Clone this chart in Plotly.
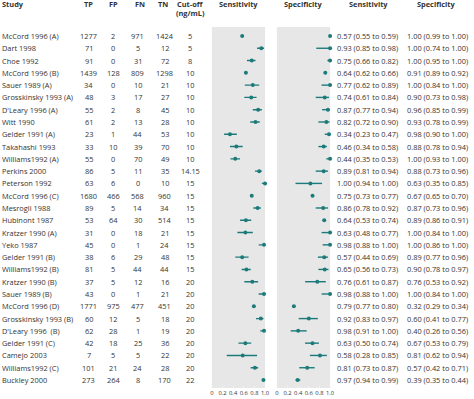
import plotly.graph_objects as go

W, H = 474, 399

studies = ["McCord 1996 (A)", "Dart 1998", "Choe 1992", "McCord 1996 (B)", "Sauer 1989 (A)",
           "Grosskinsky 1993 (A)", "D'Leary 1996 (A)", "Witt 1990", "Gelder 1991 (A)", "Takahashi 1993",
           "Williams1992 (A)", "Perkins 2000", "Peterson 1992", "McCord 1996 (C)", "Mesrogli 1988",
           "Hubinont 1987", "Kratzer 1990 (A)", "Yeko 1987", "Gelder 1991 (B)", "Williams1992 (B)",
           "Kratzer 1990 (B)", "Sauer 1989 (B)", "McCord 1996 (D)", "Grosskinsky 1993 (B)",
           "D'Leary 1996  (B)", "Gelder 1991 (C)", "Camejo 2003", "Williams1992 (C)", "Buckley 2000"]
tp = [1277, 71, 91, 1439, 34, 48, 55, 61, 23, 33, 55, 86, 63, 1680, 89, 53, 31, 45, 38, 81, 37, 43, 1771, 60, 62, 42, 7, 101, 273]
fp = [2, 0, 0, 128, 0, 3, 2, 2, 1, 10, 0, 5, 6, 466, 5, 64, 0, 0, 6, 5, 5, 0, 975, 12, 28, 18, 5, 21, 264]
fn = [971, 5, 31, 809, 10, 17, 8, 13, 44, 39, 70, 11, 0, 568, 14, 30, 18, 1, 29, 44, 12, 1, 477, 5, 1, 25, 5, 24, 8]
tn = [1424, 12, 72, 1298, 21, 27, 45, 28, 53, 70, 49, 35, 10, 960, 34, 514, 21, 24, 48, 44, 16, 21, 451, 18, 19, 36, 22, 28, 170]
cutoff = ["5", "5", "8", "10", "10", "10", "10", "10", "10", "10", "10", "14.15", "15", "15", "15", "15",
          "15", "15", "15", "15", "20", "20", "20", "20", "20", "20", "20", "20", "22"]

sens = [0.57, 0.93, 0.75, 0.64, 0.77, 0.74, 0.87, 0.82, 0.34, 0.46, 0.44, 0.89, 1.00, 0.75, 0.86,
        0.64, 0.63, 0.98, 0.57, 0.65, 0.76, 0.98, 0.79, 0.92, 0.98, 0.63, 0.58, 0.81, 0.97]
sens_lo = [0.55, 0.85, 0.66, 0.62, 0.62, 0.61, 0.77, 0.72, 0.23, 0.34, 0.35, 0.81, 0.94, 0.73, 0.78,
           0.53, 0.48, 0.88, 0.44, 0.56, 0.61, 0.88, 0.77, 0.83, 0.91, 0.50, 0.28, 0.73, 0.94]
sens_hi = [0.59, 0.98, 0.82, 0.66, 0.89, 0.84, 0.94, 0.90, 0.47, 0.58, 0.53, 0.94, 1.00, 0.77, 0.92,
           0.74, 0.77, 1.00, 0.69, 0.73, 0.87, 1.00, 0.80, 0.97, 1.00, 0.74, 0.85, 0.87, 0.99]
spec = [1.00, 1.00, 1.00, 0.91, 1.00, 0.90, 0.96, 0.93, 0.98, 0.88, 1.00, 0.88, 0.63, 0.67, 0.87,
        0.89, 1.00, 1.00, 0.89, 0.90, 0.76, 1.00, 0.32, 0.60, 0.40, 0.67, 0.81, 0.57, 0.39]
spec_lo = [0.99, 0.74, 0.95, 0.89, 0.84, 0.73, 0.85, 0.78, 0.90, 0.78, 0.93, 0.73, 0.35, 0.65, 0.73,
           0.86, 0.84, 0.86, 0.77, 0.78, 0.53, 0.84, 0.29, 0.41, 0.26, 0.53, 0.62, 0.42, 0.35]
spec_hi = [1.00, 1.00, 1.00, 0.92, 1.00, 0.98, 0.99, 0.99, 1.00, 0.94, 1.00, 0.96, 0.85, 0.70, 0.96,
           0.91, 1.00, 1.00, 0.96, 0.97, 0.92, 1.00, 0.34, 0.77, 0.56, 0.79, 0.94, 0.71, 0.44]
tick_vals = [0, 0.2, 0.4, 0.6, 0.8, 1.0]
tick_text = ["0", "0.2", "0.4", "0.6", "0.8", "1.0"]

TEAL = "#1c7b7a"
TXT = "#333333"
FONT = "Open Sans"
FS = 7.4

n = len(studies)
rows = list(range(n))

def px(x):
    return x / W

def py(y):
    return 1 - y / H

fig = go.Figure()
for vals, lo, hi, xa in [(sens, sens_lo, sens_hi, "x"), (spec, spec_lo, spec_hi, "x2")]:
    fig.add_trace(go.Scatter(
        x=vals, y=rows, xaxis=xa, yaxis="y", mode="markers",
        marker=dict(color=TEAL, size=4),
        error_x=dict(type="data", symmetric=False,
                     array=[h - v for v, h in zip(vals, hi)],
                     arrayminus=[v - l for v, l in zip(vals, lo)],
                     color=TEAL, thickness=1.4, width=0),
        showlegend=False, hoverinfo="skip", cliponaxis=False))

ann = []
def add(text, x, y, xanchor="center", yref="y", bold=False, size=FS):
    ann.append(dict(text=f"<b>{text}</b>" if bold else text, x=px(x), xref="paper",
                    y=y, yref=yref, xanchor=xanchor, yanchor="middle", showarrow=False,
                    font=dict(family=FONT, size=size, color=TXT), borderpad=0))

for i in rows:
    add(studies[i], -1, i, "left")
    add(str(tp[i]), 88, i)
    add(str(fp[i]), 113, i)
    add(str(fn[i]), 138, i)
    add(str(tn[i]), 165, i)
    add(cutoff[i], 191, i)
    add(f"{sens[i]:.2f} ({sens_lo[i]:.2f} to {sens_hi[i]:.2f})", 339, i, "left")
    add(f"{spec[i]:.2f} ({spec_lo[i]:.2f} to {spec_hi[i]:.2f})", 410, i, "left")

hy = py(4.5)
add("Study", -1, hy, "left", "paper", True)
add("TP", 88, hy, yref="paper", bold=True)
add("FP", 113, hy, yref="paper", bold=True)
add("FN", 140, hy, yref="paper", bold=True)
add("TN", 163, hy, yref="paper", bold=True)
add("Cut-off", 191, hy, yref="paper", bold=True)
add("(ng/mL)", 191, py(13), yref="paper", bold=True)
add("Sensitivity", 240, hy, yref="paper", bold=True)
add("Specificity", 306, hy, yref="paper", bold=True)
add("Sensitivity", 372, hy, yref="paper", bold=True)
add("Specificity", 441, hy, yref="paper", bold=True)

axis_common = dict(range=[0, 1], tickvals=tick_vals, ticktext=tick_text, showgrid=False,
                   zeroline=False, showline=False, ticks="inside", ticklen=2, tickcolor="#f2f2f2",
                   tickangle=0, tickfont=dict(family=FONT, size=5.8, color=TXT),
                   anchor="y", fixedrange=True)

top_px, bot_px = 27, 388
fig.update_layout(
    width=W, height=H, margin=dict(l=0, r=0, t=0, b=0),
    paper_bgcolor="white", plot_bgcolor="#e7e7e7",
    xaxis=dict(domain=[px(213), px(267)], **axis_common),
    xaxis2=dict(domain=[px(279), px(333)], **axis_common),
    yaxis=dict(domain=[py(bot_px), py(top_px)], range=[n - 1 + 0.65, -0.73], showgrid=False,
               zeroline=False, showticklabels=False, ticks="", showline=False, fixedrange=True),
    annotations=ann,
    font=dict(family=FONT, color=TXT),
)

fig.write_html("out.html", config={"displayModeBar": False},
               post_script="document.body.style.margin='0';document.body.style.padding='0';")
